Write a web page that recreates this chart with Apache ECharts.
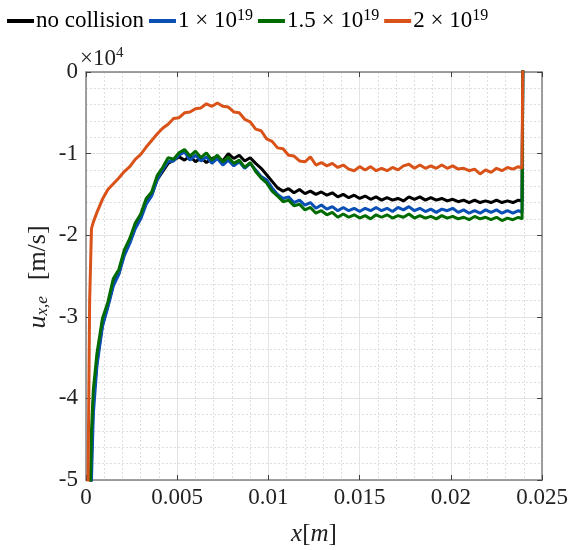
<!DOCTYPE html>
<html>
<head>
<meta charset="utf-8">
<script src="https://cdn.jsdelivr.net/npm/echarts@6/dist/echarts.min.js"></script>
<style>
  html, body { margin: 0; padding: 0; background: #fff; }
  #main { width: 571px; height: 550px; }
</style>
</head>
<body>
<div id="main"></div>
<script>
// x positions [m]
var xs = [
  0.0001, 0.0002, 0.0003, 0.0004,
  0.0006, 0.0009, 0.0012, 0.0015, 0.0018, 0.0021, 0.0024, 0.0027, 0.003, 0.0033, 0.0036, 0.0039,
  0.0042, 0.0045, 0.0048, 0.0051, 0.0054, 0.0057, 0.006, 0.0063, 0.0066, 0.0069,
  0.0072, 0.0075, 0.0078, 0.0081, 0.0084, 0.0087, 0.009, 0.0093, 0.0096, 0.0099,
  0.0102, 0.0105, 0.0108, 0.0111, 0.0114, 0.0117, 0.012, 0.0123, 0.0126, 0.0129,
  0.0132, 0.0135, 0.0138, 0.0141, 0.0144, 0.0147, 0.015, 0.0153, 0.0156, 0.0159,
  0.0162, 0.0165, 0.0168, 0.0171, 0.0174, 0.0177, 0.018, 0.0183, 0.0186, 0.0189,
  0.0192, 0.0195, 0.0198, 0.0201, 0.0204, 0.0207, 0.021, 0.0213, 0.0216, 0.0219,
  0.0222, 0.0225, 0.0228, 0.0231, 0.0234, 0.0237,
  0.0239, 0.02395
];

// u_x,e in units of 1e4 m/s (as read on the axis)
var noCollision = [
  -6.3, -5.8, -4.7, -4.05,
  -3.55, -3.10, -2.86, -2.60, -2.47, -2.22, -2.08, -1.90, -1.78, -1.60, -1.50, -1.32,
  -1.22, -1.12, -1.08, -1.04, -1.08, -1.03, -1.10, -1.05, -1.11, -1.06,
  -1.04, -1.09, -1.00, -1.06, -1.02, -1.09, -1.05, -1.12, -1.18, -1.26,
  -1.34, -1.42, -1.46, -1.43, -1.48, -1.44, -1.49, -1.46, -1.50, -1.47,
  -1.51, -1.48, -1.53, -1.50, -1.54, -1.51, -1.55, -1.52, -1.56, -1.53,
  -1.57, -1.54, -1.57, -1.55, -1.58, -1.53, -1.56, -1.53, -1.57, -1.54,
  -1.57, -1.55, -1.58, -1.56, -1.59, -1.57, -1.60, -1.57, -1.60, -1.58,
  -1.60, -1.57, -1.60, -1.58, -1.60, -1.57,
  -1.58, 0.5
];
var n1e19 = [
  -6.5, -6.0, -5.0, -4.2,
  -3.60, -3.12, -2.88, -2.62, -2.48, -2.25, -2.10, -1.92, -1.80, -1.62, -1.52, -1.32,
  -1.20, -1.10, -1.09, -1.02, -0.98, -1.08, -1.02, -1.09, -1.04, -1.12,
  -1.06, -1.14, -1.08, -1.15, -1.10, -1.18, -1.12, -1.20, -1.28, -1.32,
  -1.42, -1.50, -1.55, -1.53, -1.60, -1.57, -1.63, -1.60, -1.67, -1.63,
  -1.68, -1.65, -1.70, -1.66, -1.70, -1.67, -1.71, -1.67, -1.70, -1.66,
  -1.70, -1.67, -1.71, -1.66, -1.69, -1.65, -1.70, -1.67, -1.71, -1.68,
  -1.72, -1.68, -1.70, -1.67, -1.72, -1.69, -1.73, -1.70, -1.73, -1.69,
  -1.72, -1.69, -1.73, -1.70, -1.73, -1.70,
  -1.72, 0.5
];
var n15e19 = [
  -6.0, -5.6, -4.4, -3.9,
  -3.45, -3.02, -2.82, -2.53, -2.42, -2.18, -2.04, -1.85, -1.74, -1.55, -1.47, -1.27,
  -1.17, -1.05, -1.07, -0.99, -0.95, -1.03, -0.97, -1.05, -0.99, -1.08,
  -1.02, -1.10, -1.04, -1.12, -1.08, -1.17, -1.11, -1.22, -1.30, -1.36,
  -1.46, -1.52, -1.59, -1.57, -1.64, -1.62, -1.69, -1.66, -1.73, -1.70,
  -1.75, -1.72, -1.78, -1.74, -1.78, -1.75, -1.79, -1.76, -1.80, -1.75,
  -1.78, -1.75, -1.79, -1.76, -1.78, -1.74, -1.79, -1.76, -1.79, -1.77,
  -1.80, -1.76, -1.79, -1.77, -1.80, -1.78, -1.81, -1.77, -1.80, -1.78,
  -1.81, -1.78, -1.82, -1.79, -1.81, -1.78,
  -1.80, 0.5
];
var n2e19 = [
  -5.3, -2.8, -1.92, -1.84,
  -1.72, -1.56, -1.44, -1.37, -1.30, -1.22, -1.16, -1.07, -1.01, -0.92, -0.84, -0.76,
  -0.69, -0.64, -0.57, -0.56, -0.50, -0.49, -0.45, -0.44, -0.39, -0.42,
  -0.38, -0.42, -0.43, -0.49, -0.50, -0.58, -0.61, -0.70, -0.72, -0.82,
  -0.85, -0.93, -0.94, -1.02, -1.03, -1.09, -1.10, -1.04, -1.14, -1.11,
  -1.15, -1.12, -1.17, -1.14, -1.19, -1.21, -1.16, -1.20, -1.16, -1.21,
  -1.18, -1.21, -1.17, -1.20, -1.15, -1.13, -1.18, -1.14, -1.18, -1.15,
  -1.18, -1.14, -1.18, -1.15, -1.19, -1.18, -1.21, -1.19, -1.25, -1.20,
  -1.23, -1.18, -1.21, -1.17, -1.19, -1.16,
  -1.18, 0.5
];

var seriesNames = ['no collision', '1 × 10{sup|19}', '1.5 × 10{sup|19}', '2 × 10{sup|19}'];
var seriesData = [noCollision, n1e19, n15e19, n2e19];
var seriesColors = ['#000000', '#0a50b4', '#006b00', '#d95319'];

var serif = 'Liberation Serif';

function pairs(arr) {
  return xs.map(function (x, i) { return [x, arr[i]]; });
}

var series = seriesNames.map(function (name, k) {
  return {
    name: name,
    type: 'line',
    xAxisIndex: 0,
    yAxisIndex: 0,
    showSymbol: false,
    symbol: 'none',
    lineStyle: { color: seriesColors[k], width: 3 },
    itemStyle: { color: seriesColors[k] },
    clip: true,
    data: pairs(seriesData[k])
  };
});

var gridLine = { show: true, lineStyle: { color: '#e3e3e3', width: 1 } };
var minorLine = { show: true, lineStyle: { color: '#dedede', width: 1, type: [2, 2] } };
var axisLine = { show: true, onZero: false, lineStyle: { color: '#808080', width: 1.5 } };
var tick = { show: true, inside: true, length: 5, lineStyle: { color: '#404040', width: 1 } };

var chart = echarts.init(document.getElementById('main'));
chart.setOption({
  animation: false,
  backgroundColor: '#ffffff',
  legend: {
    left: 2,
    top: 3,
    icon: 'rect',
    itemWidth: 27,
    itemHeight: 4,
    itemGap: 5,
    data: seriesNames,
    textStyle: {
      fontFamily: serif,
      fontSize: 23,
      color: '#000',
      padding: [0, 0, 0, -3],
      rich: {
        sup: { fontFamily: serif, fontSize: 16, verticalAlign: 'top', padding: [0, 0, 10, 0] }
      }
    }
  },
  grid: { left: 86, right: 28, top: 72, bottom: 70, containLabel: false },
  xAxis: [{
    type: 'value',
    min: 0, max: 0.025, interval: 0.005,
    axisLine: axisLine,
    axisTick: tick,
    splitLine: gridLine,
    minorTick: { show: false, splitNumber: 5 },
    minorSplitLine: minorLine,
    axisLabel: {
      fontFamily: serif, fontSize: 23, color: '#222', margin: 6,
      formatter: function (v) { return String(parseFloat(v.toFixed(3))); }
    }
  }, {
    type: 'value',
    position: 'top',
    min: 0, max: 0.025, interval: 0.005,
    axisLine: axisLine,
    axisTick: tick,
    axisLabel: { show: false },
    splitLine: { show: false }
  }],
  yAxis: [{
    type: 'value',
    min: -5, max: 0, interval: 1,
    axisLine: axisLine,
    axisTick: tick,
    splitLine: gridLine,
    minorTick: { show: false, splitNumber: 5 },
    minorSplitLine: minorLine,
    axisLabel: { fontFamily: serif, fontSize: 23, color: '#222', margin: 8 }
  }, {
    type: 'value',
    position: 'right',
    min: -5, max: 0, interval: 1,
    axisLine: axisLine,
    axisTick: tick,
    axisLabel: { show: false },
    splitLine: { show: false }
  }],
  graphic: [{
    type: 'text',
    x: 80, y: 46,
    style: {
      text: '{b|×10}{sup|4}',
      fontFamily: serif, fontSize: 23, fill: '#222',
      rich: {
        b: { fontFamily: serif, fontSize: 23, fill: '#222' },
        sup: { fontFamily: serif, fontSize: 15, verticalAlign: 'top', padding: [0, 0, 10, 0], fill: '#222' }
      }
    }
  }, {
    type: 'text',
    x: 314, y: 534,
    style: {
      text: '{i|x}[{i|m}]',
      align: 'center', verticalAlign: 'middle',
      fontFamily: serif, fontSize: 25, fill: '#222',
      rich: { i: { fontFamily: serif, fontStyle: 'italic', fontSize: 25, fill: '#222' } }
    }
  }, {
    type: 'text',
    x: 38, y: 277,
    rotation: Math.PI / 2,
    style: {
      text: '{i|u}{s|x,e}  [m/s]',
      align: 'center', verticalAlign: 'middle',
      fontFamily: serif, fontSize: 26, fill: '#222',
      rich: {
        i: { fontFamily: serif, fontStyle: 'italic', fontSize: 26, fill: '#222' },
        s: { fontFamily: serif, fontStyle: 'italic', fontSize: 17, fill: '#222', verticalAlign: 'bottom', padding: [10, 3, 0, 0] }
      }
    }
  }],
  series: series
});
</script>
</body>
</html>
